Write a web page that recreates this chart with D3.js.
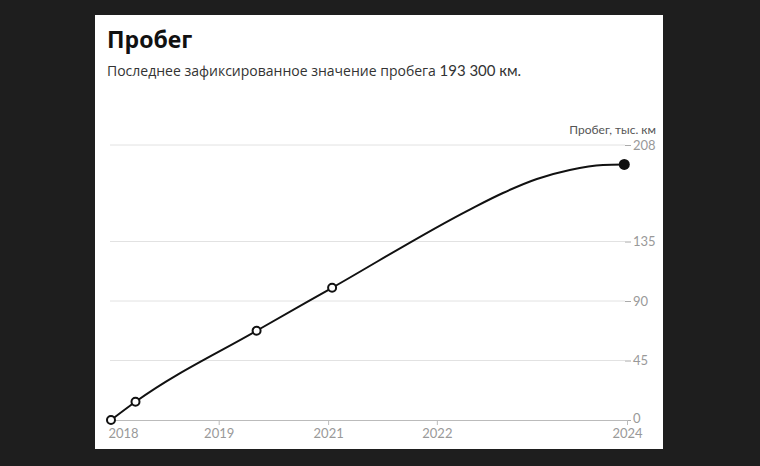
<!DOCTYPE html>
<html>
<head>
<meta charset="utf-8">
<script src="https://cdn.jsdelivr.net/npm/d3@7/dist/d3.min.js"></script>
<style>
  html, body { margin: 0; padding: 0; background: #1e1e1e; }
  svg { display: block; }
</style>
</head>
<body>
<script>
// ---- data ----
const title = "Пробег";
const subtitleText = "Последнее зафиксированное значение пробега ";
const subtitleValue = "193\u202F300\u202Fкм.";
const yAxisLabel = "Пробег, тыс. км";
const dates = ["2018-09-05", "2018-12-13", "2020-04-15", "2021-02-14", "2022-08-24", "2023-01-05", "2023-05-22", "2023-10-02", "2024-02-13", "2024-05-09"];
const mileage = [0, 13.8, 67.5, 100, 159.2, 171.7, 182.3, 189.1, 192.9, 193.3];   // тыс. км
const recorded = [true, true, true, true, false, false, false, false, false, true];
const xDomain = ["2018-09-01", "2024-05-20"];
const xTickDates = ["2018-09-01", "2019-11-14", "2021-01-29", "2022-04-13", "2024-05-20"];
const xTickLabels = ["2018", "2019", "2021", "2022", "2024"];
const yTicks = [0, 45, 90, 135, 208];

const W = 760, H = 466;
const parse = d3.timeParse("%Y-%m-%d");
const data = dates.map((d, i) => ({ date: parse(d), v: mileage[i], rec: recorded[i] }));

const svg = d3.select("body").append("svg").attr("width", W).attr("height", H);
svg.append("rect").attr("width", W).attr("height", H).attr("fill", "#1e1e1e");
svg.append("rect").attr("x", 95).attr("y", 15).attr("width", 568).attr("height", 434).attr("fill", "#fff");

const x = d3.scaleTime().domain(xDomain.map(parse)).range([110, 627]);
const y = d3.scaleLinear().domain([0, 208]).range([420, 145]);

// title
svg.append("text").attr("x", 107).attr("y", 47.5)
  .attr("font-family", "'Noto Sans', sans-serif").attr("font-weight", 700)
  .attr("font-size", 23).attr("fill", "#111").text(title);
const sub = svg.append("text").attr("x", 107).attr("y", 76)
  .attr("font-size", 14).attr("fill", "#333");
sub.append("tspan").attr("font-family", "'Open Sans', sans-serif").text(subtitleText);
sub.append("tspan").attr("font-family", "Lato, sans-serif").attr("font-size", 15).text(subtitleValue);

// y grid + axis (right)
const yAxis = d3.axisRight(y).tickValues(yTicks).tickSize(0).tickPadding(0);
const gy = svg.append("g").attr("transform", "translate(627,0)");
gy.selectAll("line.grid").data(yTicks.filter(t => t > 0)).join("line")
  .attr("x1", 110 - 627).attr("x2", -2).attr("y1", d => y(d)).attr("y2", d => y(d))
  .attr("stroke", "#e2e2e2").attr("stroke-width", 1);
gy.call(yAxis);
gy.select(".domain").remove();
gy.selectAll(".tick").append("line").attr("x1", -2).attr("x2", 4).attr("stroke", "#aaa");
gy.selectAll(".tick text").attr("x", 6).attr("dy", d => d === 0 ? "0.2em" : "0.32em")
  .attr("font-family", "Lato, sans-serif").attr("font-size", 13).attr("fill", "#999");

svg.append("text").attr("x", 656).attr("y", 134).attr("text-anchor", "end")
  .attr("font-family", "Lato, 'Noto Sans', sans-serif").attr("font-size", 12)
  .attr("fill", "#555").text(yAxisLabel);

// x axis
const xAxis = d3.axisBottom(x).tickValues(xTickDates.map(parse))
  .tickFormat((d, i) => xTickLabels[i]).tickSize(5).tickPadding(4).tickSizeOuter(0);
const gx = svg.append("g").attr("transform", "translate(0,420)").call(xAxis);
gx.select(".domain").attr("stroke", "#bbb");
gx.selectAll(".tick line").attr("stroke", "#bbb");
gx.selectAll(".tick text").attr("font-family", "Lato, sans-serif").attr("font-size", 13).attr("fill", "#999");
gx.select(".tick text").attr("text-anchor", "start").attr("dx", -2);
gx.select(".tick line").remove();

// line
const line = d3.line().x(d => x(d.date)).y(d => y(d.v)).curve(d3.curveMonotoneX);
svg.append("path").datum(data).attr("d", line)
  .attr("fill", "none").attr("stroke", "#111").attr("stroke-width", 2);

const recs = data.filter(d => d.rec);
svg.selectAll("circle.pt").data(recs.slice(0, -1)).join("circle")
  .attr("cx", d => x(d.date)).attr("cy", d => y(d.v)).attr("r", 4)
  .attr("fill", "#fff").attr("stroke", "#111").attr("stroke-width", 2);
svg.append("circle").datum(recs[recs.length - 1])
  .attr("cx", d => x(d.date)).attr("cy", d => y(d.v)).attr("r", 5.5)
  .attr("fill", "#111");
</script>
</body>
</html>
